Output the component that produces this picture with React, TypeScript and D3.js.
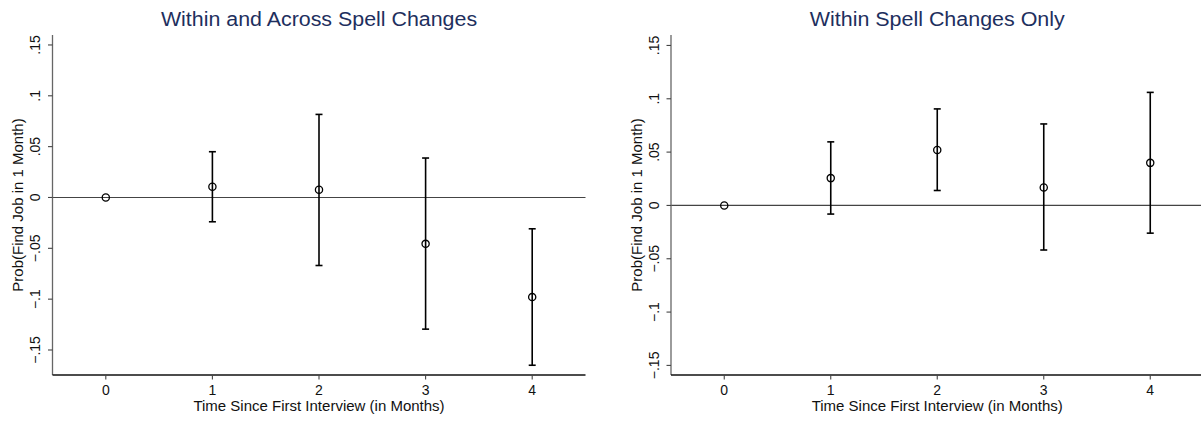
import React from "react";
import * as d3 from "d3";

const months = [0, 1, 2, 3, 4];
const xTickLabels = ["0", "1", "2", "3", "4"];
const yTickValues = [0.15, 0.1, 0.05, 0, -0.05, -0.1, -0.15];
const yTickLabels = [".15", ".1", ".05", "0", "−.05", "−.1", "−.15"];

const leftTitle = "Within and Across Spell Changes";
const leftEst = [0, 0.0105, 0.0076, -0.0456, -0.098];
const leftLo = [0, -0.0239, -0.0669, -0.1295, -0.165];
const leftHi = [0, 0.045, 0.0817, 0.0388, -0.0308];

const rightTitle = "Within Spell Changes Only";
const rightEst = [0, 0.0256, 0.052, 0.0169, 0.0399];
const rightLo = [0, -0.0081, 0.014, -0.0418, -0.026];
const rightHi = [0, 0.0596, 0.0905, 0.0764, 0.106];

const xTitle = "Time Since First Interview (in Months)";
const yTitle = "Prob(Find Job in 1 Month)";

const W = 1201;
const H = 421;
const FONT = "'Liberation Sans', Arial, Helvetica, sans-serif";
const TITLE_COLOR = "#1e2f5e";

type PanelProps = {
  x0: number;
  x1: number;
  yDomain: [number, number];
  title: string;
  est: number[];
  lo: number[];
  hi: number[];
};

function Panel({ x0, x1, yDomain, title, est, lo, hi }: PanelProps) {
  const top = 35;
  const bottom = 375;
  const x = d3.scaleLinear().domain([-0.5, 4.5]).range([x0, x1]);
  const y = d3.scaleLinear().domain(yDomain).range([bottom, top]);
  const cx = (x0 + x1) / 2;
  const cy = (top + bottom) / 2;
  const lineEnd = Math.min(x1, W);
  return (
    <g fontFamily={FONT}>
      <text x={cx} y={25.5} textAnchor="middle" fontSize={19.5} fill={TITLE_COLOR} textLength={title.length * 10.2} lengthAdjust="spacingAndGlyphs">
        {title}
      </text>
      {/* zero line */}
      <line x1={x0} x2={lineEnd} y1={y(0)} y2={y(0)} stroke="#444" strokeWidth={1.2} />
      {/* y axis */}
      <line x1={x0} x2={x0} y1={top} y2={bottom} stroke="#666" strokeWidth={1.3} />
      {yTickValues.map((v, i) => (
        <g key={"yt" + i}>
          <line x1={x0 - 4.5} x2={x0} y1={y(v)} y2={y(v)} stroke="#444" strokeWidth={1.1} />
          <text
            transform={`translate(${x0 - 12.5},${y(v)}) rotate(-90)`}
            textAnchor="middle"
            fontSize={14}
            fill="#111"
          >
            {yTickLabels[i]}
          </text>
        </g>
      ))}
      {/* x axis */}
      <line x1={x0} x2={lineEnd} y1={bottom} y2={bottom} stroke="#111" strokeWidth={1.3} />
      {months.map((m, i) => (
        <g key={"xt" + i}>
          <line x1={x(m)} x2={x(m)} y1={bottom} y2={bottom + 4.5} stroke="#444" strokeWidth={1.1} />
          <text x={x(m)} y={395} textAnchor="middle" fontSize={14} fill="#111">
            {xTickLabels[i]}
          </text>
        </g>
      ))}
      <text x={cx} y={411} textAnchor="middle" fontSize={15} fill="#111">
        {xTitle}
      </text>
      <text
        transform={`translate(${x0 - 29.5},${cy}) rotate(-90)`}
        textAnchor="middle"
        fontSize={15}
        fill="#111"
      >
        {yTitle}
      </text>
      {/* error bars */}
      {months.map((m, i) =>
        lo[i] !== hi[i] ? (
          <g key={"eb" + i} stroke="#000" strokeWidth={1.6}>
            <line x1={x(m)} x2={x(m)} y1={y(lo[i])} y2={y(hi[i])} />
            <line x1={x(m) - 3.5} x2={x(m) + 3.5} y1={y(lo[i])} y2={y(lo[i])} />
            <line x1={x(m) - 3.5} x2={x(m) + 3.5} y1={y(hi[i])} y2={y(hi[i])} />
          </g>
        ) : null
      )}
      {months.map((m, i) => (
        <circle key={"pt" + i} cx={x(m)} cy={y(est[i])} r={3.6} fill="none" stroke="#000" strokeWidth={1.3} />
      ))}
    </g>
  );
}

export default function App() {
  return (
    <svg
      width={W}
      height={H}
      viewBox={`0 0 ${W} ${H}`}
      style={{ position: "absolute", left: 0, top: 0, background: "#fff" }}
    >
      <rect x={0} y={0} width={W} height={H} fill="#fff" />
      <Panel x0={52.5} x1={585.5} yDomain={[-0.1746, 0.1598]} title={leftTitle} est={leftEst} lo={leftLo} hi={leftHi} />
      <Panel x0={671} x1={1203.5} yDomain={[-0.159, 0.1598]} title={rightTitle} est={rightEst} lo={rightLo} hi={rightHi} />
    </svg>
  );
}
